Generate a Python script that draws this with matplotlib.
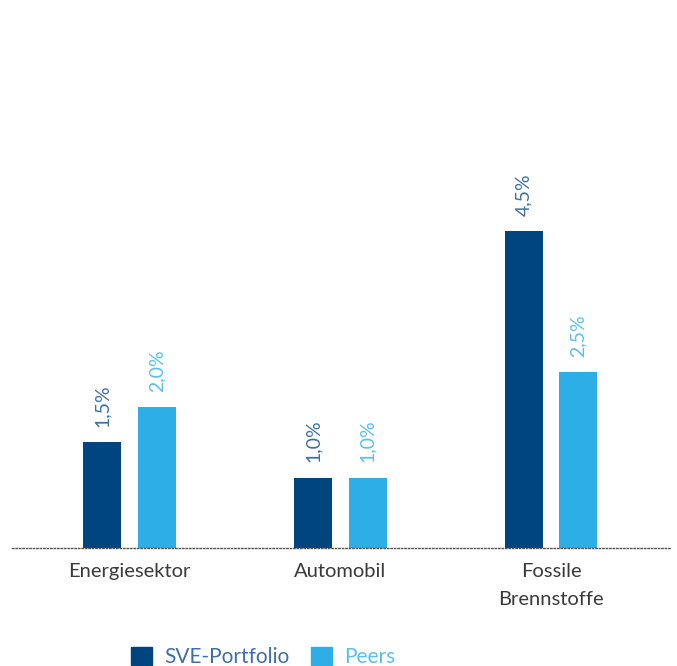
import matplotlib
matplotlib.use('Agg')
import matplotlib.pyplot as plt
from matplotlib.patches import Patch
import numpy as np

# --- Data ---
categories = ['Energiesektor', 'Automobil', 'Fossile\nBrennstoffe']
sve_portfolio = [1.5, 1.0, 4.5]
peers = [2.0, 1.0, 2.5]
series_names = ['SVE-Portfolio', 'Peers']

# --- Style ---
DARK = '#00457f'
LIGHT = '#2daee6'
DARK_TXT = '#3f6fa3'
LIGHT_TXT = '#5cbfea'
FONT = 'Lato'

plt.rcParams['font.family'] = [FONT, 'DejaVu Sans']

W, H = 677, 666
fig = plt.figure(figsize=(W / 100, H / 100), dpi=100)

# axes spans from the dotted baseline up to the top edge
base_px = 548
ax = fig.add_axes([12 / W, (H - base_px) / H, 658 / W, base_px / H])

x = np.arange(len(categories))
w = 0.18
off = 0.13
b1 = ax.bar(x - off, sve_portfolio, w, color=DARK)
b2 = ax.bar(x + off, peers, w, color=LIGHT)

def fmt(v):
    return f'{v:.1f}%'.replace('.', ',')

for bars, vals, col in [(b1, sve_portfolio, DARK_TXT), (b2, peers, LIGHT_TXT)]:
    for bar, v in zip(bars, vals):
        ax.annotate(fmt(v), (bar.get_x() + bar.get_width() / 2, v),
                    xytext=(0, 11), textcoords='offset points',
                    rotation=90, ha='center', va='bottom',
                    color=col, fontsize=14)

ax.set_xlim(-0.5575, 2.5647)
ax.set_ylim(0, base_px / 70.4)
ax.set_xticks(x)
ax.set_xticklabels(categories, fontsize=14.5, color='#3a3a3a',
                   linespacing=1.75)
ax.tick_params(axis='x', length=0, pad=11)
ax.set_yticks([])
for side in ['top', 'right', 'left']:
    ax.spines[side].set_visible(False)
ax.spines['bottom'].set_linestyle((0, (1, 1.5)))
ax.spines['bottom'].set_color('#555555')
ax.spines['bottom'].set_linewidth(1.0)
ax.patch.set_alpha(0)

handles = [Patch(color=DARK), Patch(color=LIGHT)]
fig.legend(handles, series_names, loc='center left',
           bbox_to_anchor=(121 / W, 9 / H), ncol=2, frameon=False,
           fontsize=15, handlelength=1.0, handleheight=1.0,
           handletextpad=0.6, columnspacing=1.0, borderpad=0,
           labelcolor=[DARK_TXT, LIGHT_TXT])

fig.savefig('out.png', dpi=100)
